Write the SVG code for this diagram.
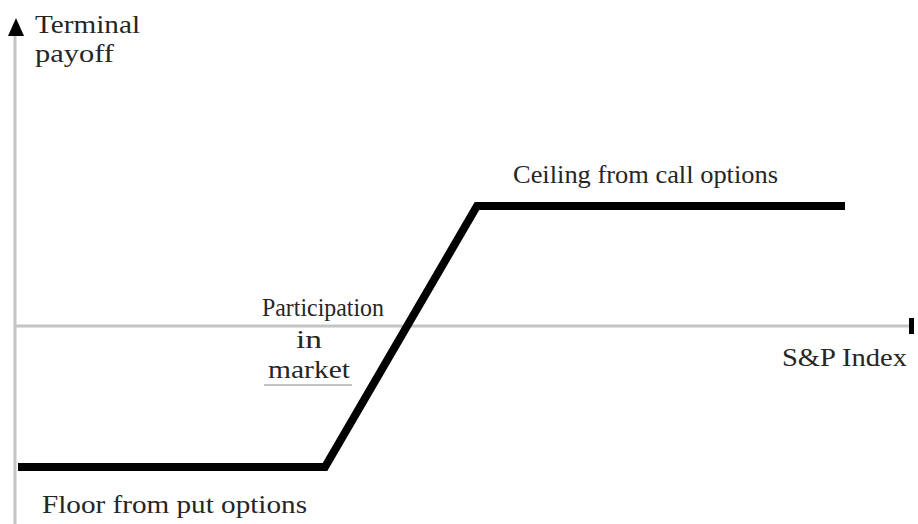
<svg xmlns="http://www.w3.org/2000/svg" width="918" height="524" viewBox="0 0 918 524">
<style>
.t{font-size:26px;fill:#262626}
.ax{stroke:#c4c4c4;stroke-width:3;fill:none}
.pay{stroke:#000;stroke-width:8;fill:none;stroke-linejoin:miter}
</style>
<rect width="918" height="524" fill="#fff"/>
<g id="axes">
<line class="ax" x1="15" y1="34" x2="15" y2="524"/>
<line class="ax" x1="15" y1="326" x2="909" y2="326"/>
<polygon points="16,18 8,36 24,36" fill="#000"/>
<rect x="909" y="318" width="5" height="16" fill="#000"/>
</g>
<g id="connectors">
<polyline class="pay" points="18,467 325,467 477,206 845,206"/>
<line x1="264" y1="385" x2="352" y2="385" stroke="#c4c4c4" stroke-width="2"/>
</g>
<g id="labels" font-family="Liberation Serif, Times New Roman, serif">
<text class="t" x="35" y="33" textLength="105" lengthAdjust="spacingAndGlyphs">Terminal</text>
<text class="t" x="35" y="62" textLength="79" lengthAdjust="spacingAndGlyphs">payoff</text>
<text class="t" x="513" y="183" textLength="265" lengthAdjust="spacingAndGlyphs">Ceiling from call options</text>
<text class="t" x="262" y="316" textLength="122" lengthAdjust="spacingAndGlyphs">Participation</text>
<text class="t" x="296" y="348" textLength="26" lengthAdjust="spacingAndGlyphs">in</text>
<text class="t" x="268" y="378" textLength="82" lengthAdjust="spacingAndGlyphs">market</text>
<text class="t" x="782" y="366" textLength="125" lengthAdjust="spacingAndGlyphs">S&amp;P Index</text>
<text class="t" x="42" y="513" textLength="265" lengthAdjust="spacingAndGlyphs">Floor from put options</text>
</g>
</svg>
